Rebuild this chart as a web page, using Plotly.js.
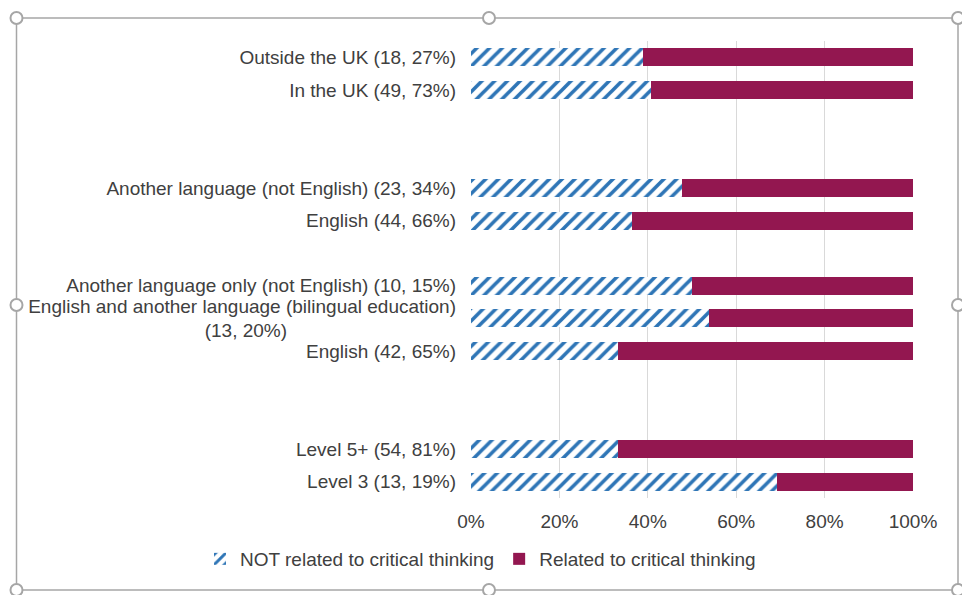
<!DOCTYPE html>
<html>
<head>
<meta charset="utf-8">
<script src="https://cdn.plot.ly/plotly-3.0.1.min.js"></script>
<style>html,body{margin:0;padding:0;background:#fff;}#chart{width:962px;height:595px;}</style>
</head>
<body>
<div id="chart"></div>
<script>
// ---- data ----
var NBSP = '\u00A0';
var categories = [
  'Outside the UK (18, 27%)',
  'In the UK (49, 73%)',
  '\u200b',
  '\u200b\u200b',
  'Another language (not English) (23, 34%)',
  'English (44, 66%)',
  '\u200b\u200b\u200b',
  'Another language only (not English) (10, 15%)',
  'English and another language (bilingual education)<br>(13, 20%)' + NBSP.repeat(32),
  'English (42, 65%)',
  '\u200b\u200b\u200b\u200b',
  '\u200b\u200b\u200b\u200b\u200b',
  'Level 5+ (54, 81%)',
  'Level 3 (13, 19%)'
];
var notRelated = [38.9, 40.8, null, null, 47.8, 36.4, null, 50.0, 53.8, 33.3, null, null, 33.3, 69.2];
var related    = [61.1, 59.2, null, null, 52.2, 63.6, null, 50.0, 46.2, 66.7, null, null, 66.7, 30.8];
var seriesNames = ['NOT related to critical thinking', 'Related to critical thinking'];
var xTicks = [0, 20, 40, 60, 80, 100];

// ---- layout helpers (pixel -> paper) ----
var L = 471, R = 913, T = 41, B = 498;
function px(x){ return (x - L) / (R - L); }
function py(y){ return (B - y) / (B - T); }

var frameColor = '#a6a6a6';
var shapes = [
  {type:'rect', xref:'paper', yref:'paper', x0:px(16.5), x1:px(958), y0:py(590), y1:py(18),
   line:{color:frameColor, width:1.5}, fillcolor:'rgba(0,0,0,0)', layer:'above'}
];
[[16.5,18],[489,18],[958,18],[16.5,305],[958,305],[16.5,590],[489,590],[958,590]].forEach(function(p){
  shapes.push({type:'circle', xref:'paper', yref:'paper', xsizemode:'pixel', ysizemode:'pixel',
    xanchor:px(p[0]), yanchor:py(p[1]), x0:-6, x1:6, y0:-6, y1:6,
    line:{color:frameColor, width:2}, fillcolor:'#ffffff', layer:'above'});
});

var traces = [
  {type:'bar', orientation:'h', name:seriesNames[0], y:categories, x:notRelated,
   marker:{color:'#ffffff', line:{width:0},
     pattern:{shape:'/', fgcolor:'#2e75b6', bgcolor:'#ffffff', size:9, solidity:0.4, fillmode:'replace'}},
   hoverinfo:'skip'},
  {type:'bar', orientation:'h', name:seriesNames[1], y:categories, x:related,
   marker:{color:'#931750', line:{width:0}}, hoverinfo:'skip'}
];

var font = {family:'"Liberation Sans", Arial, sans-serif', size:19, color:'#404040'};

var layout = {
  width:962, height:595,
  margin:{l:L, r:962-R, t:T, b:595-B, pad:0},
  paper_bgcolor:'#ffffff', plot_bgcolor:'#ffffff',
  font:font,
  barmode:'stack', bargap:0.45,
  showlegend:true,
  legend:{orientation:'h', xref:'paper', yref:'paper', x:px(200), xanchor:'left',
          y:py(559), yanchor:'middle', font:font, traceorder:'normal', itemwidth:30,
          bgcolor:'rgba(0,0,0,0)'},
  xaxis:{range:[0,100], tickvals:xTicks, ticktext:xTicks.map(function(v){return v+'%';}),
         showgrid:true, gridcolor:'#d9d9d9', gridwidth:1, zeroline:false, showline:false,
         ticks:'', ticklabelstandoff:10, fixedrange:true},
  yaxis:{type:'category', categoryorder:'array', categoryarray:categories, autorange:'reversed',
         showgrid:false, zeroline:false, showline:false, ticks:'', ticklabelstandoff:14, fixedrange:true},
  shapes:shapes
};

Plotly.newPlot('chart', traces, layout, {displayModeBar:false, staticPlot:true});
</script>
</body>
</html>
